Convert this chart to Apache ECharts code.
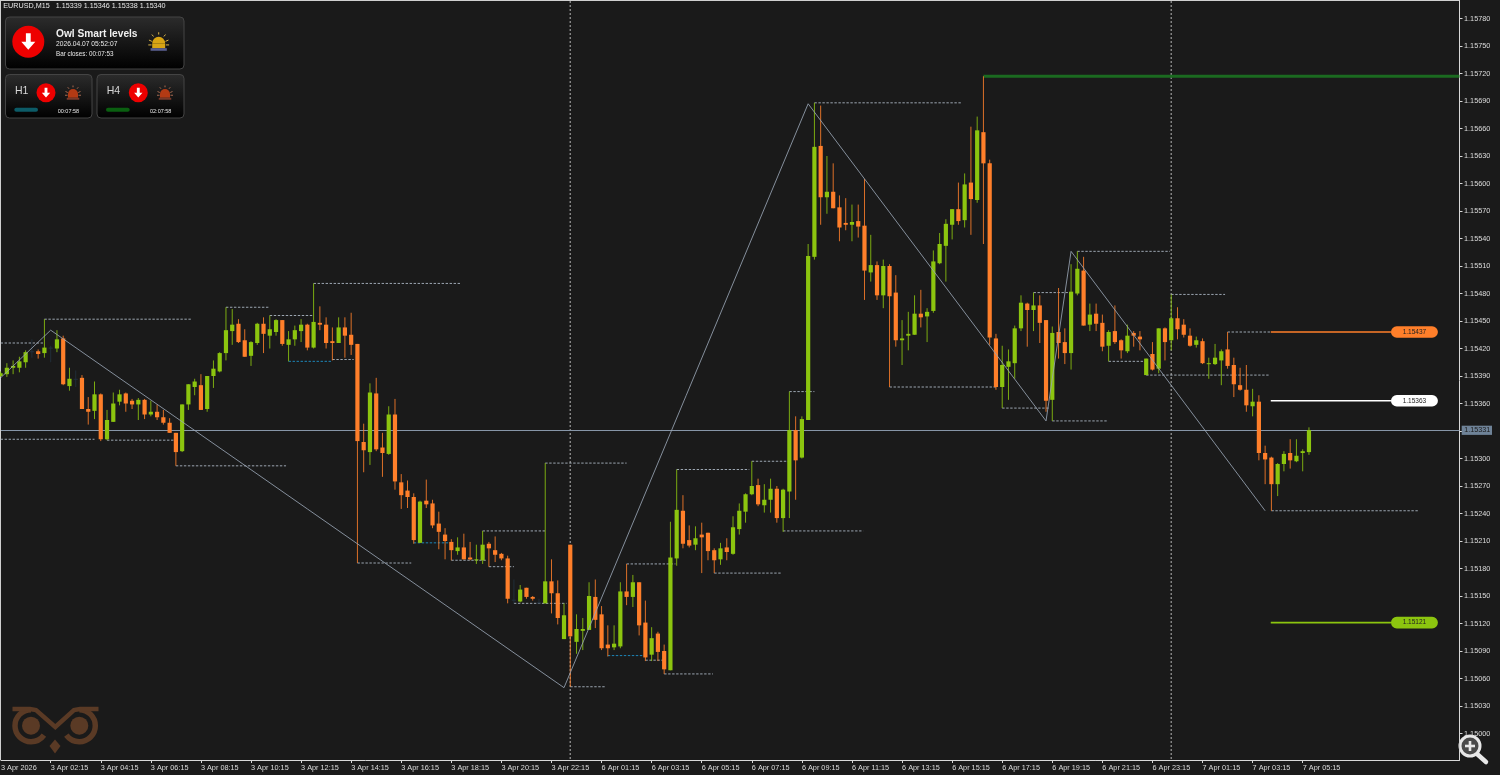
<!DOCTYPE html>
<html>
<head>
<meta charset="utf-8">
<title>EURUSD M15</title>
<style>
  html, body { margin: 0; padding: 0; background: #1a1a1a; }
  #chart { width: 1500px; height: 775px; }
</style>
<script src="https://cdn.jsdelivr.net/npm/echarts@6/dist/echarts.min.js"></script>
</head>
<body>
<div id="chart"></div>
<script>
// all quotes are in points above 1.15000
const BASE_PRICE = 1.15

const highs = [
  395,404,407,411,418,430,419,452,423,440, 434,399,396,391,367,384,371,353,372,375,
  372,365,366,365,363,359,353,344,328,359, 381,387,392,390,407,416,465,463,452,441,
  428,448,454,456,452,451,439,445,452,447, 491,466,454,443,454,454,459,425,338,382,
  388,328,357,365,283,276,262,254,277,255, 242,224,212,214,218,209,206,221,209,215,
  197,194,168,162,159,150,147,295,190,167, 142,206,130,126,165,168,139,118,118,165,
  185,173,165,145,116,111,97,231,288,260, 227,226,230,219,202,208,213,237,251,262,
  297,278,272,278,270,267,373,346,346,534, 688,685,630,622,587,584,577,577,605,544,
  515,517,512,500,451,460,478,484,464,527, 546,561,572,601,611,662,673,717,626,436,
  423,419,445,478,470,481,478,451,444,486, 442,512,526,520,469,469,457,440,467,430,
  446,439,439,409,427,442,443,479,465,452, 442,433,431,410,425,419,438,410,399,402,
  376,369,314,302,295,308,321,321,310,334
]
const opens = [
  390,392,399,399,405,417,417,415,421,420, 431,379,387,388,354,352,370,321,340,362,
  371,363,359,364,348,351,345,339,328,308, 359,378,380,354,390,395,415,439,447,429,
  412,426,447,434,438,451,424,430,439,446, 421,448,446,428,426,443,435,425,318,307,
  371,312,305,348,274,265,258,208,254,251, 229,217,209,199,203,192,189,189,207,200,
  196,191,146,144,159,149,143,142,166,153, 103,206,100,112,113,149,130,97,94,95,
  155,149,165,121,86,109,90,69,191,243, 211,206,217,219,200,190,203,196,223,242,
  261,271,249,255,267,235,264,331,301,342, 520,641,585,591,574,557,555,559,554,503,
  511,478,510,481,429,434,435,458,455,461, 513,532,555,572,560,601,582,656,622,431,
  378,400,404,442,469,462,467,451,364,438, 427,415,480,505,446,458,448,423,439,429,
  417,437,433,391,414,398,442,429,453,446, 434,424,428,403,403,407,419,402,380,375,
  357,362,306,301,272,294,306,297,306,307
]
const closes = [
  393,399,401,406,416,417,414,421,421,430, 381,387,387,354,351,370,321,342,360,370,
  360,359,364,348,351,345,339,328,307,359, 381,384,353,390,398,415,440,446,427,411,
  427,447,436,441,451,425,430,440,446,421, 449,446,426,426,443,434,424,319,309,372,
  310,306,348,275,260,258,211,253,250,227, 220,210,200,203,190,190,190,206,202,195,
  191,147,146,157,149,147,143,166,153,126, 129,106,114,114,150,124,93,93,98,155,
  149,165,118,83,104,89,70,192,244,207, 205,213,214,199,189,202,198,225,243,261,
  270,250,255,267,235,266,331,298,343,521, 640,585,591,573,552,555,558,553,505,511,
  478,510,477,429,431,436,458,454,460,515, 534,556,572,559,599,583,658,622,432,378,
  402,406,442,470,462,467,448,363,437,426, 415,482,507,445,457,447,422,438,427,418,
  434,434,430,409,397,442,427,453,441,435, 423,429,404,404,410,417,401,381,375,358,
  362,306,299,272,294,305,298,303,308,331
]
const lows = [
  389,389,392,394,399,410,409,410,405,416, 380,374,378,354,337,343,319,320,340,358,
  351,354,342,343,346,342,337,328,292,307, 353,369,353,351,377,394,407,424,426,411,
  401,424,415,420,434,423,406,423,427,418, 420,440,420,407,426,410,413,186,285,293,
  308,280,304,266,245,246,207,208,246,224, 201,190,189,195,190,189,185,185,182,187,
  189,142,142,143,147,145,142,142,131,119, 103,51,87,91,113,115,91,84,91,93,
  140,138,107,79,79,79,65,69,183,202, 203,200,175,189,175,184,189,195,217,230,
  260,248,241,241,230,220,235,255,300,342, 517,555,567,573,537,549,537,541,473,493,
  473,464,378,422,402,418,435,443,427,459, 512,493,539,555,552,544,579,534,424,375,
  355,364,387,439,422,439,426,351,341,409, 403,397,478,445,439,439,417,406,425,409,
  415,422,418,391,396,393,407,418,430,432, 422,421,403,387,402,380,398,367,374,351,
  346,298,272,243,259,286,289,296,286,304
]

const zigzagBars = [0, 8, 90, 129, 167, 171, 202]
const zigzagPrices = [388, 440, 50, 687, 341, 526, 243]

// dashed swing levels: bar where it starts, bar where it stops, price
const levelFrom = [0,7,0,17,28,36,43,46,53,50,57,66,72,77,78,82,87,91,100,97,103,106,108,114,120,125,126,130,142,160,165,168,172,177,183,187,196,203]
const levelTo = [7,30.6,15,27.6,45.6,43,50,53,56.4,73.6,65.6,72,77.5,87,82,90.4,100,96.6,107.8,103,106,113.8,119.6,124.8,125.8,137.8,130,153.5,159.1,167.6,171,176.7,186.8,182.7,202.8,195.6,202.8,226.4]
const levelPrices = [426,452,321,320,292,465,456,406,408,491,186,208,189,221,182,142,295,51,185,85,80,65,288,175,297,221,373,688,378,355,481,341,526,406,391,479,438,243]
const blueLevels = [7, 11, 19]

const separatorBars = [91, 187]
const currentPrice = 331

const targetPrices = [438, 363, 121]
const targetLabels = ['1.15437', '1.15363', '1.15121']
const targetColors = ['#ff7f2a', '#ffffff', '#8cc50f']
const topLevelPrice = 717
const topLevelStart = 157

const priceTicks = []
for (let p = 0; p <= 780; p += 30) priceTicks.push(p)

const timeLabels = [
  '3 Apr 2026', '3 Apr 02:15', '3 Apr 04:15', '3 Apr 06:15', '3 Apr 08:15', '3 Apr 10:15', '3 Apr 12:15',
  '3 Apr 14:15', '3 Apr 16:15', '3 Apr 18:15', '3 Apr 20:15', '3 Apr 22:15', '6 Apr 01:15', '6 Apr 03:15',
  '6 Apr 05:15', '6 Apr 07:15', '6 Apr 09:15', '6 Apr 11:15', '6 Apr 13:15', '6 Apr 15:15', '6 Apr 17:15',
  '6 Apr 19:15', '6 Apr 21:15', '6 Apr 23:15', '7 Apr 01:15', '7 Apr 03:15', '7 Apr 05:15'
]
const BARS_PER_LABEL = 8
const timeTicks = timeLabels.map((_, i) => i * BARS_PER_LABEL)

const X_MIN = 0.064
const X_MAX = 233.048
const Y_MIN = -28.9
const Y_MAX = 799.1

const UP = '#8cc50f'
const DOWN = '#ff7f2a'
const DOJI = '#22313f'
const FONT = '"Liberation Sans", Arial, sans-serif'
const fmtPrice = v => (BASE_PRICE + v / 1e5).toFixed(5)

const chart = echarts.init(document.getElementById('chart'), null, { renderer: 'canvas' })

const renderCandle = (params, api) => {
  const i = api.value(0)
  const o = api.value(1)
  const c = api.value(2)
  const top = api.coord([i, Math.max(o, c)])
  const bottom = api.coord([i, Math.min(o, c)])
  const hi = api.coord([i, api.value(4)])
  const lo = api.coord([i, api.value(3)])
  const color = o === c ? DOJI : (c > o ? UP : DOWN)
  const bodyH = Math.max(bottom[1] - top[1], 1)
  return {
    type: 'group',
    children: [
      { type: 'line', shape: { x1: hi[0], y1: hi[1], x2: lo[0], y2: lo[1] }, style: { stroke: color, lineWidth: 0.85 } },
      { type: 'rect', shape: { x: top[0] - 2.1, y: top[1], width: 4.2, height: bodyH }, style: { fill: color } }
    ]
  }
}

const renderLevel = (params, api) => {
  const a = api.coord([api.value(0), api.value(2)])
  const b = api.coord([api.value(1), api.value(2)])
  const blue = blueLevels.includes(params.dataIndex)
  return {
    type: 'line',
    shape: { x1: a[0], y1: a[1], x2: b[0], y2: b[1] },
    style: { stroke: blue ? '#1e9ad6' : '#b4bfcc', lineWidth: 0.85, lineDash: [2.4, 1.6] }
  }
}

const renderSeparator = (params, api) => {
  const a = api.coord([api.value(0), Y_MAX])
  const b = api.coord([api.value(0), Y_MIN])
  return {
    type: 'line',
    shape: { x1: a[0], y1: a[1], x2: b[0], y2: b[1] },
    style: { stroke: '#8a8a8a', lineWidth: 1.4, lineDash: [2, 2] }
  }
}

// solid target line with its pill on the right
const PILL_FROM = 222.1
const PILL_TO = 229.6
const renderTarget = (params, api) => {
  const idx = params.dataIndex
  const p = api.value(0)
  const start = api.coord([202.9, p])
  const pillA = api.coord([PILL_FROM, p])
  const pillB = api.coord([PILL_TO, p])
  const color = targetColors[idx]
  return {
    type: 'group',
    children: [
      { type: 'line', shape: { x1: start[0], y1: start[1], x2: pillA[0], y2: pillA[1] }, style: { stroke: color, lineWidth: 1.6 } },
      { type: 'rect', shape: { x: pillA[0], y: pillA[1] - 5.8, width: pillB[0] - pillA[0], height: 11.6, r: 5.8 }, style: { fill: color } },
      { type: 'text', style: { text: targetLabels[idx], x: (pillA[0] + pillB[0]) / 2, y: pillA[1], align: 'center', verticalAlign: 'middle', fill: '#222', font: '6.5px ' + FONT } }
    ]
  }
}

// bid line sits on one pixel row, like the terminal draws it
const renderCurrent = (params, api) => {
  const left = api.coord([X_MIN, api.value(0)])
  const right = api.coord([X_MAX, api.value(0)])
  return {
    type: 'rect',
    shape: { x: left[0], y: Math.floor(left[1]), width: right[0] - left[0], height: 1 },
    style: { fill: '#8796a8' }
  }
}

const renderCurrentTag = (params, api) => {
  const pos = api.coord([X_MAX, api.value(0)])
  return {
    type: 'group',
    children: [
      { type: 'rect', shape: { x: 1461.7, y: pos[1] - 4.4, width: 30.3, height: 9.2 }, style: { fill: '#6f8398' } },
      { type: 'text', style: { text: fmtPrice(api.value(0)), x: 1464.3, y: pos[1] + 0.3, align: 'left', verticalAlign: 'middle', fill: '#1a1a1a', font: '7.2px ' + FONT } }
    ]
  }
}

// ---- overlay panels ----
const panel = (x, y, w, h) => ({
  type: 'rect',
  shape: { x, y, width: w, height: h, r: 4 },
  style: {
    fill: new echarts.graphic.LinearGradient(0, 0, 0, 1, [{ offset: 0, color: '#2c2c2c' }, { offset: 1, color: '#000000' }]),
    stroke: '#444444', lineWidth: 1
  }
})

const label = (text, x, y, font, fill) => ({
  type: 'text',
  style: { text, x, y, font: font + ' ' + FONT, fill: fill || '#e8e8e8', verticalAlign: 'middle', align: 'left' }
})

const downBadge = (cx, cy, r) => {
  const s = r / 16
  return [
    { type: 'circle', shape: { cx, cy, r }, style: { fill: '#ee0000' } },
    {
      type: 'polygon',
      shape: { points: [
        [cx - 2.4 * s, cy - 8.5 * s], [cx + 2.4 * s, cy - 8.5 * s], [cx + 2.4 * s, cy],
        [cx + 7 * s, cy], [cx, cy + 8 * s], [cx - 7 * s, cy], [cx - 2.4 * s, cy]
      ] },
      style: { fill: '#ffffff' }
    }
  ]
}

const alarm = (cx, cy, size, dome, base, ray) => {
  const r = size * 0.5
  const rays = [[-1.5, -0.3, -1.05, -0.1], [1.5, -0.3, 1.05, -0.1], [-1.05, -1.15, -0.8, -0.85], [1.05, -1.15, 0.8, -0.85], [0, -1.5, 0, -1.15], [-1.6, 0.45, -1.1, 0.45], [1.6, 0.45, 1.1, 0.45]]
  return [
    { type: 'sector', shape: { cx, cy: cy + r * 0.2, r0: 0, r, startAngle: Math.PI, endAngle: Math.PI * 2 }, style: { fill: dome } },
    { type: 'rect', shape: { x: cx - r, y: cy + r * 0.2, width: r * 2, height: r * 0.75 }, style: { fill: dome } },
    { type: 'rect', shape: { x: cx - r * 1.25, y: cy + r * 0.95, width: r * 2.5, height: r * 0.4 }, style: { fill: base } }
  ].concat(rays.map(a => ({
    type: 'line',
    shape: { x1: cx + a[0] * r, y1: cy + a[1] * r, x2: cx + a[2] * r, y2: cy + a[3] * r },
    style: { stroke: ray, lineWidth: 1 }
  })))
}

const OWL = '#5a3a25'
const owlLogo = [
  { type: 'circle', shape: { cx: 31, cy: 725.7, r: 9 }, style: { fill: OWL } },
  { type: 'circle', shape: { cx: 79.3, cy: 725.7, r: 9 }, style: { fill: OWL } },
  { type: 'arc', shape: { cx: 31, cy: 725.7, r: 16, startAngle: -Math.PI / 2, endAngle: Math.PI * 0.2, clockwise: false }, style: { stroke: OWL, lineWidth: 5.5, fill: 'none' } },
  { type: 'arc', shape: { cx: 79.3, cy: 725.7, r: 16, startAngle: -Math.PI / 2, endAngle: Math.PI * 0.8, clockwise: true }, style: { stroke: OWL, lineWidth: 5.5, fill: 'none' } },
  { type: 'polyline', shape: { points: [[12.5, 709], [30, 709], [36, 710], [55.3, 727], [74, 710], [80, 709], [98.5, 709]] }, style: { stroke: OWL, lineWidth: 4.4, fill: 'none' } },
  { type: 'polygon', shape: { points: [[55, 739.5], [60.5, 746], [55, 753.5], [49.5, 746]] }, style: { fill: OWL } }
]

const magnifier = [
  { type: 'line', shape: { x1: 1476, y1: 753, x2: 1486, y2: 762 }, style: { stroke: '#e8e8e8', lineWidth: 4.5, lineCap: 'round' } },
  { type: 'circle', shape: { cx: 1470, cy: 746, r: 10 }, style: { fill: '#4a4a4a', stroke: '#e8e8e8', lineWidth: 3 } },
  { type: 'line', shape: { x1: 1465, y1: 746, x2: 1475, y2: 746 }, style: { stroke: '#e8e8e8', lineWidth: 2.6 } },
  { type: 'line', shape: { x1: 1470, y1: 741, x2: 1470, y2: 751 }, style: { stroke: '#e8e8e8', lineWidth: 2.6 } }
]

const overlay = [
  { type: 'line', shape: { x1: 0.5, y1: 0, x2: 0.5, y2: 760 }, style: { stroke: '#d0d0d0', lineWidth: 1 } },
  { type: 'line', shape: { x1: 0, y1: 0.5, x2: 1460, y2: 0.5 }, style: { stroke: '#d0d0d0', lineWidth: 1 } },
  label('EURUSD,M15', 3.3, 6, '7.2px'),
  label('1.15339 1.15346 1.15338 1.15340', 55.7, 6, '7.2px'),
  panel(5.5, 17, 178.5, 52),
  ...downBadge(28.3, 41.7, 16),
  label('Owl Smart levels', 56, 33.7, 'bold 10.2px', '#f0f0f0'),
  label('2026.04.07 05:52:07', 56, 44.5, '6.7px'),
  label('Bar closes: 00:07:53', 56, 54.5, '6.3px'),
  ...alarm(158.7, 42, 13, '#d9a514', '#5a5f90', '#d9b44a'),
  panel(5.5, 74.5, 86.5, 43.5),
  label('H1', 15, 91, '10.5px', '#d8d8d8'),
  ...downBadge(46, 92.7, 9.5),
  ...alarm(73, 93, 10, '#b33a14', '#7a3a2a', '#a86a50'),
  { type: 'rect', shape: { x: 14.3, y: 107.7, width: 23.7, height: 4, r: 2 }, style: { fill: '#0c5b67' } },
  label('00:07:58', 57.7, 111, '5.5px'),
  panel(97, 74.5, 87, 43.5),
  label('H4', 106.7, 91, '10.5px', '#d8d8d8'),
  ...downBadge(138.3, 92.7, 9.5),
  ...alarm(165, 93, 10, '#b33a14', '#7a3a2a', '#a86a50'),
  { type: 'rect', shape: { x: 106, y: 107.7, width: 23.7, height: 4, r: 2 }, style: { fill: '#0a5f10' } },
  label('02:07:58', 150, 111, '5.5px'),
  ...owlLogo,
  ...magnifier
]

chart.setOption({
  animation: false,
  backgroundColor: '#1a1a1a',
  grid: { left: 1, top: 1, right: 40.5, bottom: 15, containLabel: false, outerBoundsMode: 'none' },
  xAxis: {
    type: 'value', min: X_MIN, max: X_MAX,
    axisLine: { show: true, onZero: false, lineStyle: { color: '#d8d8d8' } },
    axisTick: { show: true, length: 3, customValues: timeTicks.slice(1), lineStyle: { color: '#d8d8d8' } },
    axisLabel: {
      customValues: timeTicks.slice(1).concat([X_MIN]), color: '#dcdcdc', fontFamily: FONT, fontSize: 7.3, align: 'left', margin: 4,
      formatter: v => timeLabels[Math.round(v / BARS_PER_LABEL)]
    },
    splitLine: { show: false }
  },
  yAxis: {
    type: 'value', position: 'right', min: Y_MIN, max: Y_MAX,
    axisLine: { show: true, onZero: false, lineStyle: { color: '#d8d8d8' } },
    axisTick: { show: true, length: 3, customValues: priceTicks, lineStyle: { color: '#d8d8d8' } },
    axisLabel: { customValues: priceTicks, color: '#dcdcdc', fontFamily: FONT, fontSize: 7.3, margin: 4.5, formatter: v => fmtPrice(v) },
    splitLine: { show: false }
  },
  series: [
    { type: 'custom', name: 'separators', renderItem: renderSeparator, data: separatorBars.map(b => [b]), encode: { x: 0 }, silent: true, z: 1 },
    { type: 'custom', name: 'current', renderItem: renderCurrent, data: [[currentPrice]], encode: { y: 0 }, silent: true, z: 2 },
    {
      type: 'custom', name: 'levels', renderItem: renderLevel, silent: true, z: 3,
      data: levelFrom.map((f, i) => [f, levelTo[i], levelPrices[i]]), encode: { x: [0, 1], y: 2 }
    },
    {
      type: 'line', name: 'top level', data: [[topLevelStart, topLevelPrice], [X_MAX, topLevelPrice]], showSymbol: false, silent: true, z: 3,
      lineStyle: { color: '#1b6a20', width: 3 }
    },
    {
      type: 'custom', name: 'EURUSD', renderItem: renderCandle, silent: true, z: 4,
      data: opens.map((o, i) => [i, o, closes[i], lows[i], highs[i]]), encode: { x: 0, y: [1, 2, 3, 4] }
    },
    {
      type: 'line', name: 'zigzag', data: zigzagBars.map((b, i) => [b, zigzagPrices[i]]), showSymbol: false, silent: true, z: 5,
      lineStyle: { color: '#98a4b4', width: 0.85 }
    },
    {
      type: 'custom', name: 'targets', renderItem: renderTarget, silent: true, z: 6,
      data: targetPrices.map(p => [p]), encode: { y: 0 }
    },
    {
      type: 'custom', name: 'current tag', renderItem: renderCurrentTag, silent: true, z: 6,
      data: [[currentPrice]], encode: { y: 0 }
    }
  ],
  graphic: { elements: overlay }
})

window.addEventListener('resize', () => chart.resize())
</script>
</body>
</html>
